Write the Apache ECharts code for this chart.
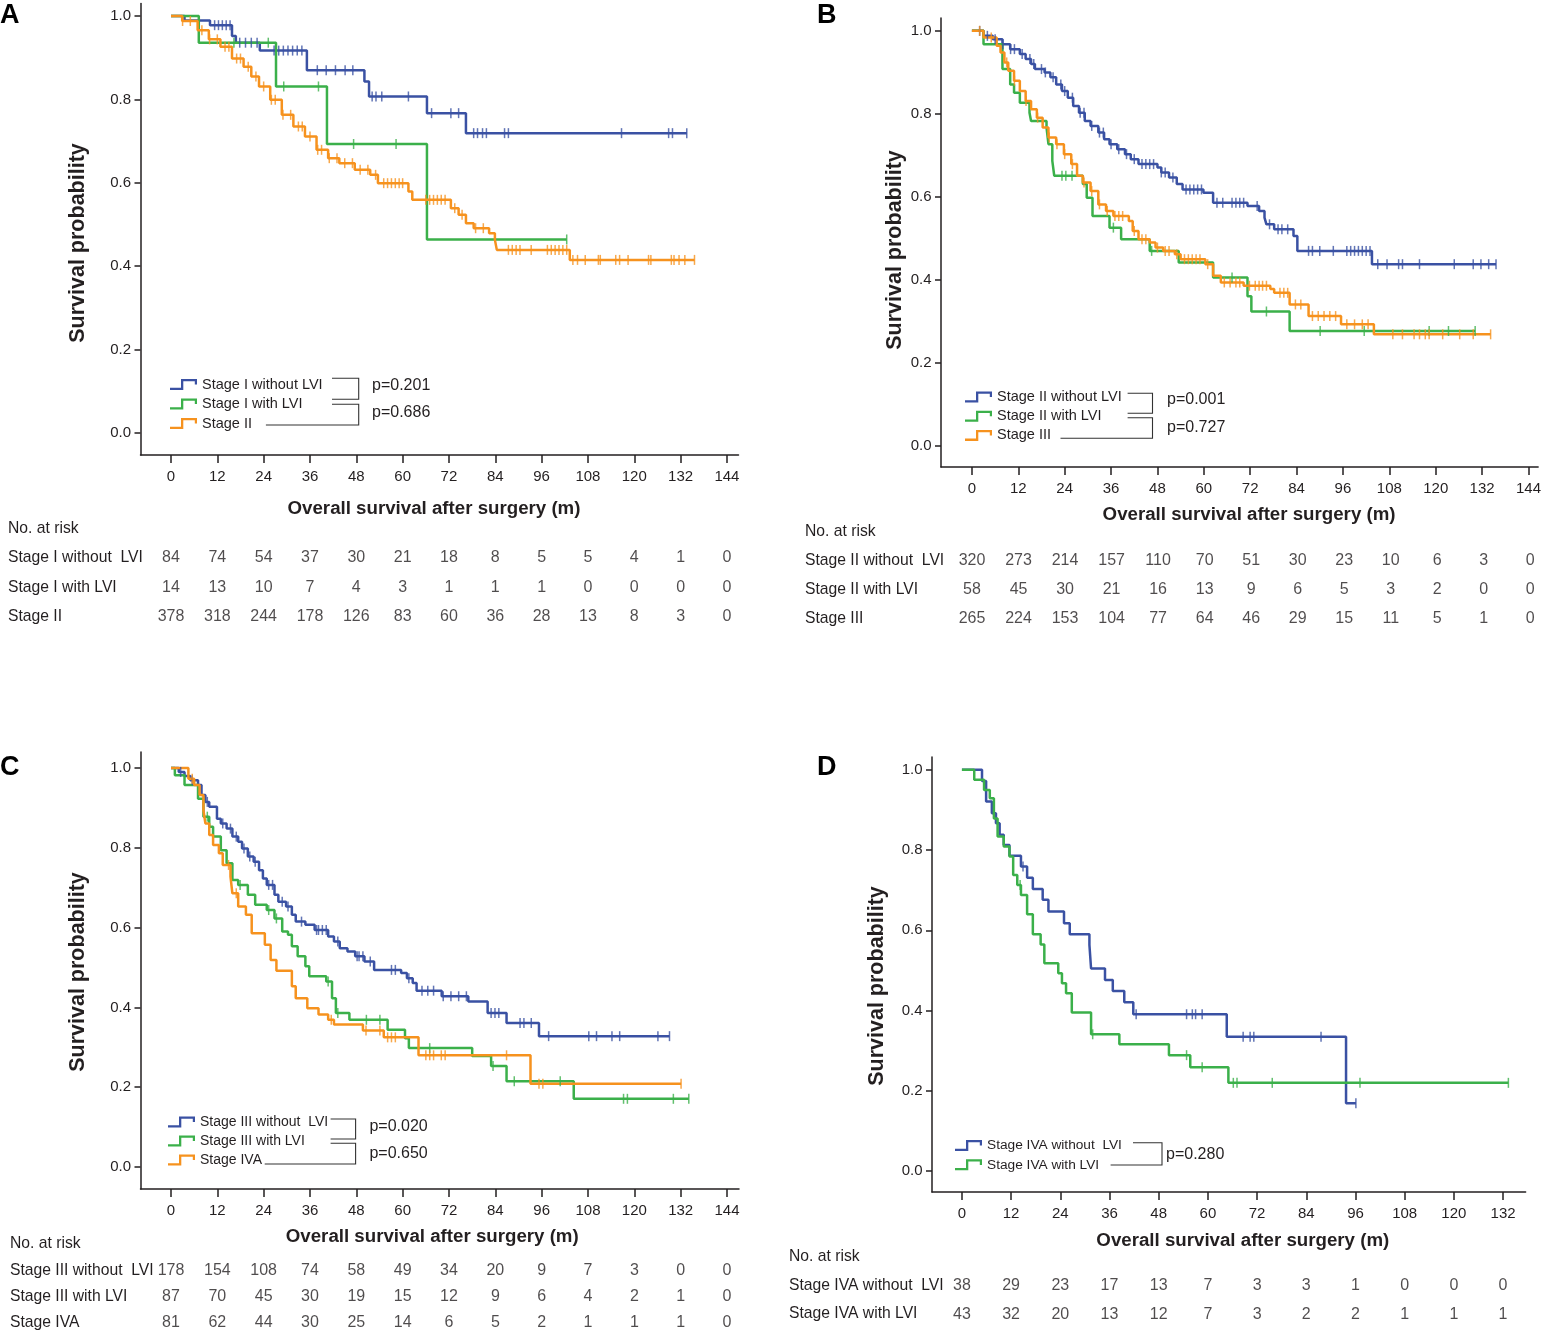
<!DOCTYPE html>
<html>
<head>
<meta charset="utf-8">
<title>Overall survival by stage and LVI</title>
<script src="https://cdn.jsdelivr.net/npm/echarts@6/dist/echarts.min.js"></script>
<style>
html, body { margin: 0; padding: 0; background: #fff; }
#main { width: 1544px; height: 1336px; }
</style>
</head>
<body>
<div id="main"></div>
<script>
// ---- data ----
var monthsTo144 = [0, 12, 24, 36, 48, 60, 72, 84, 96, 108, 120, 132, 144];
var monthsTo132 = [0, 12, 24, 36, 48, 60, 72, 84, 96, 108, 120, 132];
var probTicks = [0, 0.2, 0.4, 0.6, 0.8, 1.0];

// A: stage I / II
var aNames = ['Stage I without LVI', 'Stage I with LVI', 'Stage II'];
var aRiskLabels = ['Stage I without  LVI', 'Stage I with LVI', 'Stage II'];
var aBlueT = [0, 3.5, 10.1, 15.8, 16.8, 23, 35.2, 50.1, 51.3, 66.3, 76.4, 133.6];
var aBlueS = [1, 0.989, 0.978, 0.952, 0.936, 0.917, 0.870, 0.843, 0.807, 0.767, 0.719, 0.719];
var aBlueCens = [11.3, 12.3, 13.3, 14.3, 15.3, 17.8, 19.3, 20.8, 22.3, 26.7, 27.9, 29.1, 30.3, 31.5, 32.7, 33.9, 37.9, 40.2, 42.6, 45.1, 47.1, 52.1, 53.1, 54.6, 61.5, 67.5, 72.5, 74.5, 78.4, 79.4, 80.7, 81.7, 86.4, 87.4, 116.7, 128.9, 129.9, 133.6];
var aGreenT = [0, 7.2, 27.2, 40.4, 66.3, 102.5];
var aGreenS = [1, 0.936, 0.831, 0.693, 0.464, 0.464];
var aGreenCens = [16.3, 25.2, 29.2, 38.2, 47.3, 58.3, 102.5];
var aOrangeT = [0, 2.9, 6.9, 9.8, 12.8, 15.8, 18.8, 20.8, 22.8, 25.7, 28.7, 31.7, 34.7, 37.7, 40.7, 43.6, 47.6, 51.6, 53.6, 61.5, 62.5, 72.5, 74.5, 76.4, 78.4, 82.4, 83.9, 84.4, 103.3, 135.6];
var aOrangeS = [1, 0.988, 0.966, 0.944, 0.926, 0.898, 0.878, 0.855, 0.831, 0.799, 0.763, 0.735, 0.711, 0.679, 0.659, 0.647, 0.631, 0.619, 0.599, 0.579, 0.559, 0.539, 0.523, 0.503, 0.491, 0.479, 0.463, 0.439, 0.415, 0.415];
var aOrangeCens = [3, 5, 8, 10, 12, 14, 15, 17, 18, 20, 22, 24, 26, 27, 29, 31, 33, 34, 36, 38, 39, 41, 43, 45, 47, 49, 51, 53, 55.1, 56.1, 57.1, 58.1, 59.1, 60, 66, 67, 68, 69, 70, 71, 73.5, 75.4, 78.9, 80.9, 87.4, 88.4, 89.4, 90.4, 93.3, 97.5, 98.5, 99.5, 100.5, 101.5, 102.5, 104.1, 105.3, 107.3, 110.7, 111.2, 115.2, 116.2, 118.4, 123.7, 124.3, 129.6, 130.3, 131.6, 133.1, 135.6];
var aRisk1 = [84, 74, 54, 37, 30, 21, 18, 8, 5, 5, 4, 1, 0];
var aRisk2 = [14, 13, 10, 7, 4, 3, 1, 1, 1, 0, 0, 0, 0];
var aRisk3 = [378, 318, 244, 178, 126, 83, 60, 36, 28, 13, 8, 3, 0];
var aPvals = ['p=0.201', 'p=0.686'];

// B: stage II / III
var bNames = ['Stage II without LVI', 'Stage II with LVI', 'Stage III'];
var bRiskLabels = ['Stage II without  LVI', 'Stage II with LVI', 'Stage III'];
var bBlueT = [0, 3, 5.4, 7.9, 9.9, 12.4, 13.9, 15.3, 16.3, 18.8, 20.3, 21.8, 23.3, 24.8, 26.2, 27.7, 29.2, 30.7, 32.7, 34.2, 35.6, 37.6, 39.6, 41.1, 43.1, 48, 49, 51, 53, 54.5, 59.9, 62.4, 71.3, 74.3, 75.7, 76.2, 78.2, 83.2, 84.2, 103.5, 135.6];
var bBlueS = [1, 0.988, 0.980, 0.968, 0.956, 0.944, 0.932, 0.920, 0.908, 0.900, 0.888, 0.871, 0.855, 0.839, 0.819, 0.803, 0.783, 0.771, 0.755, 0.739, 0.727, 0.715, 0.703, 0.691, 0.679, 0.671, 0.659, 0.647, 0.631, 0.618, 0.610, 0.586, 0.578, 0.566, 0.550, 0.534, 0.522, 0.506, 0.470, 0.438, 0.438];
var bBlueCens = [2, 4, 6, 8, 10, 11, 13, 15, 16, 18, 19, 21, 23, 24, 26, 28, 29, 31, 33, 34, 36, 38, 40, 42, 44, 45, 46, 47, 49, 50, 52, 55.4, 56.4, 57.4, 58.4, 59.4, 63.4, 64.9, 67.3, 68.3, 69.3, 70.3, 73.8, 77, 79.2, 80.2, 81.7, 87.1, 88.1, 90, 93.5, 97, 98, 99, 100, 101, 102, 103, 105, 107.4, 110.4, 111.4, 115.8, 124.8, 129.7, 131.7, 133.7, 135.6];
var bGreenT = [0, 3, 7.9, 9.9, 10.9, 12.4, 14.9, 15.3, 19.3, 19.8, 20.8, 21.3, 28.7, 29.7, 31.2, 35.6, 38.6, 46, 53.5, 62.4, 71.3, 72.3, 82.2, 130.2];
var bGreenS = [1, 0.968, 0.908, 0.871, 0.851, 0.827, 0.803, 0.783, 0.767, 0.727, 0.687, 0.651, 0.631, 0.598, 0.554, 0.526, 0.498, 0.470, 0.442, 0.406, 0.361, 0.324, 0.277, 0.277];
var bGreenCens = [23.3, 24.3, 25.9, 36.6, 46.5, 67.3, 76.2, 90.1, 101.5, 118.3, 123.3, 130.2];
var bOrangeT = [0, 3, 6.4, 7.4, 8.4, 9.4, 10.9, 12.4, 13.9, 15.3, 16.8, 18.3, 19.8, 21.8, 23.8, 25.7, 27.2, 28.7, 30.7, 32.7, 34.7, 36.6, 40.6, 41.6, 43.1, 46, 47.5, 49.5, 52.5, 54, 60.4, 62.4, 64.4, 70.3, 77.2, 78.2, 82.2, 87.1, 95.5, 104, 134.2];
var bOrangeS = [1, 0.984, 0.964, 0.948, 0.924, 0.904, 0.880, 0.855, 0.831, 0.811, 0.791, 0.767, 0.743, 0.727, 0.703, 0.679, 0.651, 0.635, 0.614, 0.582, 0.566, 0.554, 0.542, 0.518, 0.498, 0.490, 0.478, 0.470, 0.462, 0.450, 0.438, 0.410, 0.394, 0.386, 0.378, 0.369, 0.341, 0.313, 0.293, 0.269, 0.269];
var bOrangeCens = [2, 5, 9, 11, 14, 17, 20, 22, 24, 26, 29, 31, 33, 35, 37, 38, 39, 42, 44, 45, 48, 50, 51, 53, 55, 56, 57, 58, 59, 61, 65.3, 66.8, 68.3, 69.3, 71.8, 73.3, 74.3, 75.2, 76.2, 79.7, 80.7, 81.7, 83.7, 85.1, 88.1, 89.6, 91.1, 92.6, 94.1, 97, 99, 101, 102.5, 108.9, 111.4, 114.4, 115.8, 117.3, 118.3, 121.8, 126.2, 129.7, 134.2];
var bRisk1 = [320, 273, 214, 157, 110, 70, 51, 30, 23, 10, 6, 3, 0];
var bRisk2 = [58, 45, 30, 21, 16, 13, 9, 6, 5, 3, 2, 0, 0];
var bRisk3 = [265, 224, 153, 104, 77, 64, 46, 29, 15, 11, 5, 1, 0];
var bPvals = ['p=0.001', 'p=0.727'];

// C: stage III / IVA
var cNames = ['Stage III without  LVI', 'Stage III with LVI', 'Stage IVA'];
var cRiskLabels = ['Stage III without  LVI', 'Stage III with LVI', 'Stage IVA'];
var cBlueT = [0, 2, 3.5, 5, 7, 7.9, 8.9, 9.9, 11.9, 12.9, 14.4, 15.9, 17.4, 18.4, 19.9, 21.4, 22.8, 23.8, 24.8, 26.8, 27.8, 29.8, 31.3, 32.3, 34.8, 37.2, 40.7, 42.2, 43.7, 45.7, 47.7, 50.1, 52.6, 59.6, 61.1, 62.6, 63.6, 70.1, 77, 82, 86.9, 95.3, 129.1];
var cBlueS = [1, 0.99, 0.98, 0.969, 0.957, 0.932, 0.915, 0.903, 0.873, 0.861, 0.848, 0.828, 0.815, 0.798, 0.778, 0.765, 0.744, 0.723, 0.707, 0.682, 0.665, 0.653, 0.632, 0.615, 0.607, 0.594, 0.578, 0.565, 0.548, 0.540, 0.528, 0.515, 0.494, 0.486, 0.473, 0.461, 0.442, 0.428, 0.415, 0.386, 0.361, 0.328, 0.328];
var cBlueCens = [2.5, 5.5, 9.4, 13.4, 15.4, 16.9, 18.9, 20.4, 21.8, 25.3, 26.3, 28.8, 30.3, 33.8, 37.7, 38.2, 39.2, 40.2, 43.2, 48.2, 48.7, 49.7, 51.6, 57.1, 58.1, 61.6, 65, 66.5, 68, 70.5, 72.5, 74.5, 76.5, 82.9, 83.9, 84.9, 90.4, 91.4, 93.3, 97.8, 108.2, 110.2, 114.2, 116.2, 126.1, 129.1];
var cGreenT = [0, 1, 3.5, 7, 8.4, 9.9, 10.9, 12.9, 14.4, 15.9, 17.4, 19.9, 21.8, 24.8, 26.8, 28.8, 30.3, 31.3, 32.8, 34.8, 35.8, 40.2, 41.7, 42.7, 46.2, 56.1, 60.6, 61.6, 78, 82.9, 86.9, 104.3, 134.1];
var cGreenS = [1, 0.982, 0.957, 0.923, 0.878, 0.853, 0.828, 0.794, 0.761, 0.719, 0.707, 0.682, 0.657, 0.644, 0.623, 0.590, 0.582, 0.553, 0.528, 0.503, 0.478, 0.465, 0.423, 0.386, 0.369, 0.344, 0.323, 0.298, 0.278, 0.253, 0.215, 0.171, 0.171];
var cGreenCens = [9.4, 17.9, 25.3, 27.3, 40.7, 43.2, 50.6, 54.1, 67, 83.4, 88.9, 100.8, 117.2, 118.2, 130.1, 134.1];
var cOrangeT = [0, 4.5, 6, 7.4, 8.4, 8.9, 9.9, 10.9, 12.4, 13.4, 15.4, 15.9, 17.4, 19.4, 20.9, 24.3, 25.8, 27.3, 31.3, 32.3, 35.3, 38.2, 40.7, 42.2, 49.7, 55.1, 64.1, 93.1, 132.1];
var cOrangeS = [1, 0.973, 0.957, 0.932, 0.894, 0.861, 0.832, 0.807, 0.786, 0.757, 0.728, 0.686, 0.653, 0.632, 0.586, 0.557, 0.519, 0.492, 0.453, 0.423, 0.398, 0.382, 0.369, 0.357, 0.342, 0.325, 0.280, 0.209, 0.209];
var cOrangeCens = [5.5, 14.9, 16.9, 41.5, 50.5, 54.1, 56.1, 57.1, 58.1, 66, 67, 68, 70, 71, 86.9, 95.3, 96.3, 132.1];
var cRisk1 = [178, 154, 108, 74, 58, 49, 34, 20, 9, 7, 3, 0, 0];
var cRisk2 = [87, 70, 45, 30, 19, 15, 12, 9, 6, 4, 2, 1, 0];
var cRisk3 = [81, 62, 44, 30, 25, 14, 6, 5, 2, 1, 1, 1, 0];
var cPvals = ['p=0.020', 'p=0.650'];

// D: stage IVA
var dNames = ['Stage IVA without  LVI', 'Stage IVA with LVI'];
var dRiskLabels = ['Stage IVA without  LVI', 'Stage IVA with LVI'];
var dBlueT = [0, 4.9, 5.9, 7.3, 8.3, 9.2, 10.2, 11.6, 14.4, 15.9, 17.3, 19.7, 21.1, 24.9, 26.3, 31.1, 31.5, 34.9, 36.8, 39.6, 41.8, 64.6, 93.7, 96.1];
var dBlueS = [1, 0.972, 0.921, 0.892, 0.867, 0.838, 0.813, 0.786, 0.759, 0.731, 0.703, 0.676, 0.647, 0.618, 0.590, 0.564, 0.505, 0.476, 0.449, 0.421, 0.391, 0.335, 0.169, 0.169];
var dBlueCens = [14.9, 42.5, 54.8, 56.2, 57, 58.6, 68.6, 70.3, 71.2, 87.6, 96.1];
var dGreenT = [0, 3, 5.4, 6.8, 7.8, 8.7, 10.2, 11.6, 12.5, 13.5, 14.4, 15.9, 17.3, 19.2, 20.1, 23.5, 24.4, 25.4, 26.8, 31.5, 38.4, 50.5, 55.7, 65, 133.3];
var dGreenS = [1, 0.975, 0.950, 0.929, 0.879, 0.834, 0.809, 0.784, 0.738, 0.713, 0.688, 0.640, 0.590, 0.565, 0.518, 0.493, 0.468, 0.443, 0.395, 0.341, 0.316, 0.289, 0.259, 0.220, 0.220];
var dGreenCens = [14.2, 31.9, 54.8, 58.6, 66.2, 67.1, 75.7, 97.1, 133.3];
var dRisk1 = [38, 29, 23, 17, 13, 7, 3, 3, 1, 0, 0, 0];
var dRisk2 = [43, 32, 20, 13, 12, 7, 3, 2, 2, 1, 1, 1];
var dPvals = ['p=0.280'];

// ---- styling ----
var FONT = "'Liberation Sans', Arial, Helvetica, sans-serif";
var INK = '#231f20';
var BLUE = '#3a51a3', GREEN = '#3bb04a', ORANGE = '#f6921e';
// step shaped legend icon (outline drawn as a thin filled shape)
var STEP_ICON = 'path://M0,8.7 L11,8.7 L11,0 L27,0 L27,5.6 L24.8,5.6 L24.8,2.3 L13.3,2.3 L13.3,11 L0,11 Z';

// layout of each panel, in page pixels
// legend: [left, top, itemGap, fontSize]
var panels = [
    {
        letter: 'A', letterPos: [0, 16],
        box: [140.5, 3.5, 598, 451.5], xr: [-7.9, 147], yr: [-0.053, 1.03], ticks: monthsTo144,
        nameGap: 44, namePad: [0, 11, 0, 0], yTitle: [78, 243],
        table: [513.5, 118], labelMargin: 132.5,
        legend: [170, 377, 4.5, 14.5],
        names: aNames, riskLabels: aRiskLabels, risk: [aRisk1, aRisk2, aRisk3],
        curves: [
            { t: aBlueT, s: aBlueS, c: aBlueCens, color: BLUE },
            { t: aGreenT, s: aGreenS, c: aGreenCens, color: GREEN },
            { t: aOrangeT, s: aOrangeS, c: aOrangeCens, color: ORANGE }
        ],
        pvals: aPvals, pPos: [[372, 386], [372, 413]],
        brackets: [
            [[332, 378.3], [358.7, 378.3], [358.7, 399.3], [332, 399.3]],
            [[332, 404.3], [358.7, 404.3], [358.7, 425], [265.9, 425]]
        ]
    },
    {
        letter: 'B', letterPos: [817, 16],
        box: [941, 18, 599, 449], xr: [-8, 146.5], yr: [-0.0506, 1.031], ticks: monthsTo144,
        nameGap: 38, namePad: [0, 0, 0, 19], yTitle: [895, 250],
        table: [517, 116], labelMargin: 136,
        legend: [965, 389.5, 4.2, 14.5],
        names: bNames, riskLabels: bRiskLabels, risk: [bRisk1, bRisk2, bRisk3],
        curves: [
            { t: bBlueT, s: bBlueS, c: bBlueCens, color: BLUE },
            { t: bGreenT, s: bGreenS, c: bGreenCens, color: GREEN },
            { t: bOrangeT, s: bOrangeS, c: bOrangeCens, color: ORANGE }
        ],
        pvals: bPvals, pPos: [[1167, 400], [1167, 428]],
        brackets: [
            [[1127.6, 393.3], [1152.5, 393.3], [1152.5, 413.3], [1127.6, 413.3]],
            [[1127.6, 417.7], [1152.5, 417.7], [1152.5, 438.3], [1060.5, 438.3]]
        ]
    },
    {
        letter: 'C', letterPos: [0, 768],
        box: [140.5, 752, 598.5, 437], xr: [-7.9, 147.1], yr: [-0.055, 1.04], ticks: monthsTo144,
        nameGap: 38, namePad: [0, 15, 0, 0], yTitle: [78, 972],
        table: [1231, 110], labelMargin: 130.5,
        legend: [168, 1115, 5, 14],
        names: cNames, riskLabels: cRiskLabels, risk: [cRisk1, cRisk2, cRisk3],
        curves: [
            { t: cBlueT, s: cBlueS, c: cBlueCens, color: BLUE },
            { t: cGreenT, s: cGreenS, c: cGreenCens, color: GREEN },
            { t: cOrangeT, s: cOrangeS, c: cOrangeCens, color: ORANGE }
        ],
        pvals: cPvals, pPos: [[369.4, 1126.7], [369.4, 1153.3]],
        brackets: [
            [[330.6, 1119], [355.6, 1119], [355.6, 1139], [330.6, 1139]],
            [[330.6, 1143.3], [355.6, 1143.3], [355.6, 1164], [264.7, 1164]]
        ]
    },
    {
        letter: 'D', letterPos: [817, 768],
        box: [932, 757, 593.6, 435], xr: [-7.3, 137.5], yr: [-0.052, 1.032], ticks: monthsTo132,
        nameGap: 39, namePad: [0, 0, 0, 28], yTitle: [877, 986],
        table: [1242.5, 86], labelMargin: 143,
        legend: [955, 1138.5, 5.3, 13.7],
        names: dNames, riskLabels: dRiskLabels, risk: [dRisk1, dRisk2],
        curves: [
            { t: dBlueT, s: dBlueS, c: dBlueCens, color: BLUE },
            { t: dGreenT, s: dGreenS, c: dGreenCens, color: GREEN }
        ],
        pvals: dPvals, pPos: [[1166, 1155]],
        brackets: [
            [[1133, 1142.7], [1162, 1142.7], [1162, 1165], [1110.6, 1165]]
        ]
    }
];

// survival value of a step curve at time x
function survivalAt(t, s, x) {
    var v = s[0];
    for (var i = 0; i < t.length; i++) {
        if (t[i] <= x) v = s[i];
    }
    return v;
}

var option = {
    animation: false,
    backgroundColor: '#fff',
    textStyle: { fontFamily: FONT },
    grid: [], xAxis: [], yAxis: [], series: [], legend: [], graphic: []
};

function addPanel(p) {
    var gi = option.grid.length;
    var axisLineStyle = { color: INK, width: 1.5 };

    // survival plot
    option.grid.push({ left: p.box[0], top: p.box[1], width: p.box[2], height: p.box[3] });
    option.xAxis.push({
        gridIndex: gi, type: 'value', min: p.xr[0], max: p.xr[1],
        name: 'Overall survival after surgery (m)', nameLocation: 'middle', nameGap: p.nameGap,
        nameTextStyle: { fontSize: 18.7, fontWeight: 'bold', color: INK, fontFamily: FONT, padding: p.namePad },
        axisLine: { show: true, onZero: false, lineStyle: axisLineStyle },
        axisTick: { show: true, customValues: p.ticks, length: 8, lineStyle: axisLineStyle },
        axisLabel: { customValues: p.ticks, margin: 14, fontSize: 15, color: INK, fontFamily: FONT },
        splitLine: { show: false }
    });
    option.yAxis.push({
        gridIndex: gi, type: 'value', min: p.yr[0], max: p.yr[1],
        axisLine: { show: true, onZero: false, lineStyle: axisLineStyle },
        axisTick: { show: true, customValues: probTicks, length: 6, lineStyle: axisLineStyle },
        axisLabel: {
            customValues: probTicks, margin: 9.5, fontSize: 15, color: INK, fontFamily: FONT,
            formatter: function (v) { return v.toFixed(1); }
        },
        splitLine: { show: false }
    });

    p.curves.forEach(function (c, k) {
        var name = p.names[k];
        option.series.push({
            type: 'line', name: name, xAxisIndex: gi, yAxisIndex: gi,
            step: 'end', symbol: 'none', z: 2,
            data: c.t.map(function (t, i) { return [t, c.s[i]]; }),
            lineStyle: { color: c.color, width: 2.5 },
            itemStyle: { color: c.color }
        });
        // censored cases as small vertical ticks
        option.series.push({
            type: 'scatter', name: name, xAxisIndex: gi, yAxisIndex: gi,
            symbol: 'rect', symbolSize: [1.5, 10], z: 3, silent: true,
            data: c.c.map(function (x) { return [x, survivalAt(c.t, c.s, x)]; }),
            itemStyle: { color: c.color }
        });
    });

    option.legend.push({
        orient: 'vertical', left: p.legend[0], top: p.legend[1], itemGap: p.legend[2],
        itemWidth: 27, itemHeight: 11, padding: 0,
        data: p.names.map(function (n) { return { name: n, icon: STEP_ICON }; }),
        textStyle: { fontSize: p.legend[3], color: INK, fontFamily: FONT }
    });

    // number at risk table, sharing the plot's time scale
    var ti = gi + 1;
    option.grid.push({ left: p.box[0], top: p.table[0], width: p.box[2], height: p.table[1] });
    option.xAxis.push({ gridIndex: ti, type: 'value', min: p.xr[0], max: p.xr[1], show: false });
    option.yAxis.push({
        gridIndex: ti, type: 'category', inverse: true,
        data: ['No. at risk'].concat(p.riskLabels),
        axisLine: { show: false }, axisTick: { show: false }, splitLine: { show: false },
        axisLabel: { interval: 0, align: 'left', margin: p.labelMargin, fontSize: 15.7, color: INK, fontFamily: FONT }
    });
    p.risk.forEach(function (row, r) {
        option.series.push({
            type: 'scatter', xAxisIndex: ti, yAxisIndex: ti, symbolSize: 1, silent: true,
            itemStyle: { color: 'rgba(0,0,0,0)' },
            data: row.map(function (n, k) { return [p.ticks[k], r + 1, n]; }),
            label: {
                show: true, position: 'inside', fontSize: 16, color: INK, fontFamily: FONT,
                formatter: function (q) { return String(q.value[2]); }
            }
        });
    });

    // panel letter, y title, comparison brackets and p values
    option.graphic.push({
        type: 'text', x: p.letterPos[0], y: p.letterPos[1],
        style: { text: p.letter, fontSize: 27, fontWeight: 'bold', fontFamily: FONT, fill: '#000',
                 textAlign: 'left', textVerticalAlign: 'middle', align: 'left', verticalAlign: 'middle' }
    });
    option.graphic.push({
        type: 'text', x: p.yTitle[0], y: p.yTitle[1], rotation: Math.PI / 2,
        style: { text: 'Survival probability', fontSize: 21.5, fontWeight: 'bold', fontFamily: FONT, fill: INK,
                 textAlign: 'center', textVerticalAlign: 'middle', align: 'center', verticalAlign: 'middle' }
    });
    p.brackets.forEach(function (pts) {
        option.graphic.push({
            type: 'polyline', shape: { points: pts },
            style: { stroke: '#333', lineWidth: 1.1, fill: null }
        });
    });
    p.pvals.forEach(function (txt, i) {
        option.graphic.push({
            type: 'text', x: p.pPos[i][0], y: p.pPos[i][1],
            style: { text: txt, fontSize: 16, fontFamily: FONT, fill: INK,
                     textAlign: 'left', textVerticalAlign: 'middle', align: 'left', verticalAlign: 'middle' }
        });
    });
}

panels.forEach(addPanel);

var myChart = echarts.init(document.getElementById('main'));
myChart.setOption(option);
</script>
</body>
</html>
